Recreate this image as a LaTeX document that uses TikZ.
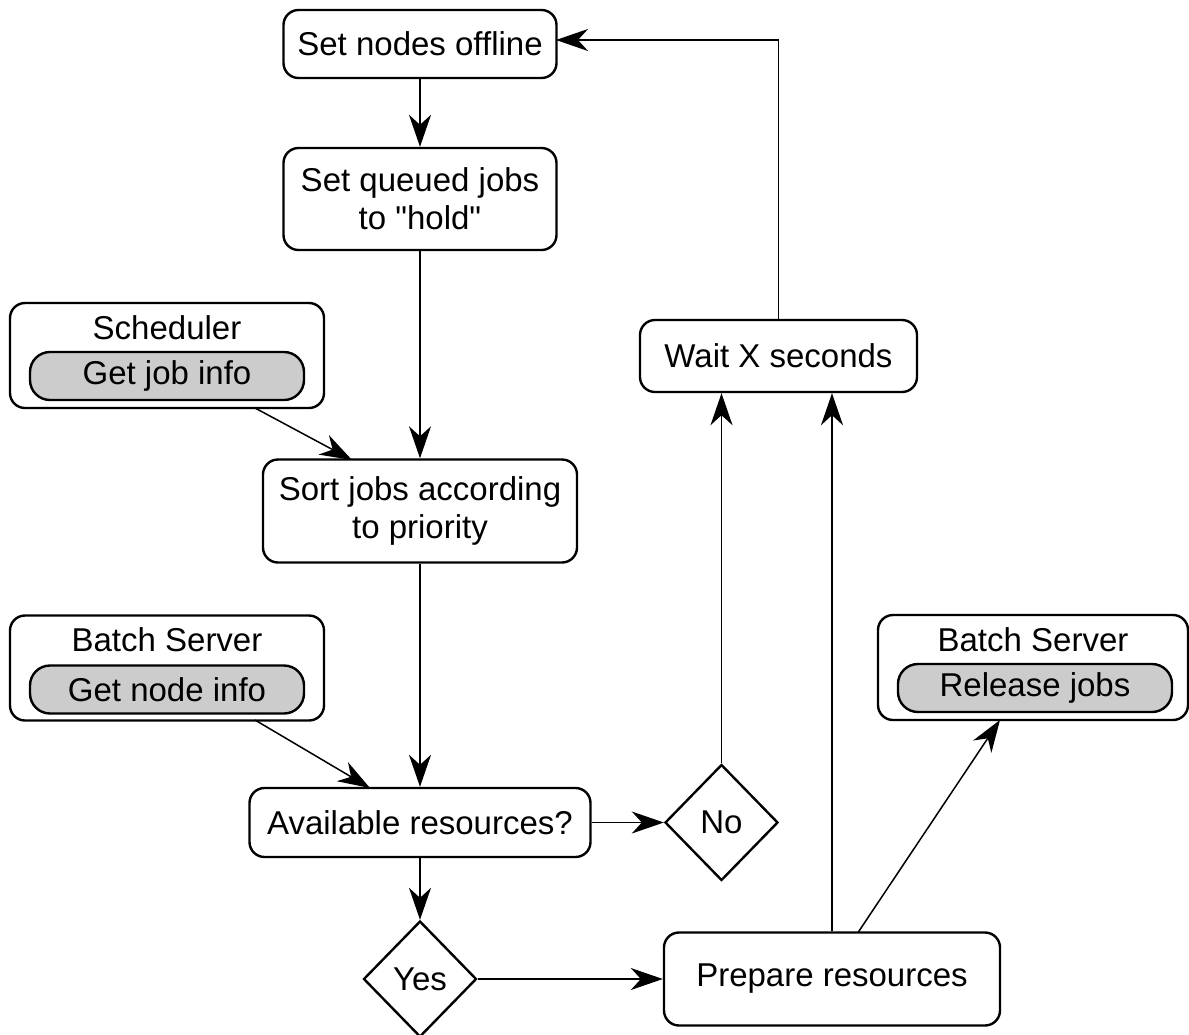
\documentclass[tikz,border=0pt]{standalone}
\usepackage{fontspec}
\setmainfont{Liberation Sans}[Ligatures=TeXOff]
\usetikzlibrary{arrows.meta,shapes.geometric,calc}
\begin{document}
\begin{tikzpicture}[x=1pt,y=1pt,
  font=\fontsize{16.5}{19}\selectfont,
  box/.style={draw,line width=1.2pt,rounded corners=7.5pt,align=center,inner sep=0pt},
  inbox/.style={draw,line width=1.2pt,rounded corners=10pt,fill=black!20,inner sep=0pt,
    minimum width=137pt,minimum height=24pt},
  choice/.style={draw,line width=1.2pt,diamond,inner sep=0pt,minimum width=56.5pt,minimum height=58pt},
  flow/.style={line width=0.75pt,-{Stealth[length=16pt,width=11pt,inset=5pt]}},
]
\useasboundingbox (0,0) rectangle (594.5,-517);

% main column
\node[box,minimum width=136.5pt,minimum height=34pt] (offline) at (210,-22) {Set nodes offline};
\node[box,minimum width=136.5pt,minimum height=51pt] (hold) at (210,-99.5) {Set queued jobs\\to "hold"};
\node[box,minimum width=157pt,minimum height=51.5pt] (sort) at (210,-255.5) {Sort jobs according\\to priority};
\node[box,minimum width=170.5pt,minimum height=34.5pt] (avail) at (210,-411.25) {Available resources?};
\node[choice] (no) at (360.75,-411.25) {No};
\node[choice] (yes) at (210,-489.5) {Yes};
\node[box,minimum width=168pt,minimum height=46.5pt] (prep) at (416,-489.5) {Prepare resources};
\node[box,minimum width=138.5pt,minimum height=36pt] (wait) at (389.25,-178) {Wait X seconds};

% service boxes
\node[box,minimum width=157pt,minimum height=52.5pt] (sched) at (83.5,-177.75) {};
\node (schedtitle) at (83.5,-164) {Scheduler};
\node[inbox] (jobinfo) at (83.5,-188) {Get job info};

\node[box,minimum width=157pt,minimum height=52.5pt] (bsl) at (83.5,-334) {};
\node (bsltitle) at (83.5,-320) {Batch Server};
\node[inbox] (nodeinfo) at (83.5,-344.75) {Get node info};

\node[box,minimum width=155pt,minimum height=52.5pt] (bsr) at (516.5,-333.75) {};
\node (bsrtitle) at (516.5,-320) {Batch Server};
\node[inbox] (release) at (517.5,-344) {Release jobs};

% connector end points
\coordinate (schedout) at (127.5,-204);
\coordinate (sortin) at (176,-230);
\coordinate (bslout) at (127.5,-360);
\coordinate (availin) at (185,-394);
\coordinate (prepout) at (429,-466.25);
\coordinate (bsrin) at (500,-360);
\coordinate (corner) at (389.25,-20);
\coordinate (offin) at (278,-20);

% connectors
\draw[flow] (offline) -- (hold);
\draw[flow] (hold) -- (sort);
\draw[flow] (schedout) -- (sortin);
\draw[flow] (sort) -- (avail);
\draw[flow] (bslout) -- (availin);
\draw[flow] (avail) -- (no);
\draw[flow] (avail) -- (yes);
\draw[flow] (yes) -- (prep);
\draw[flow] (no.north) -- (no.north |- wait.south);
\draw[flow] (prep.north) -- (prep.north |- wait.south);
\draw[flow] (prepout) -- (bsrin);
\draw[flow] (wait.north) -- (corner) -- (offin);
\end{tikzpicture}
\end{document}
